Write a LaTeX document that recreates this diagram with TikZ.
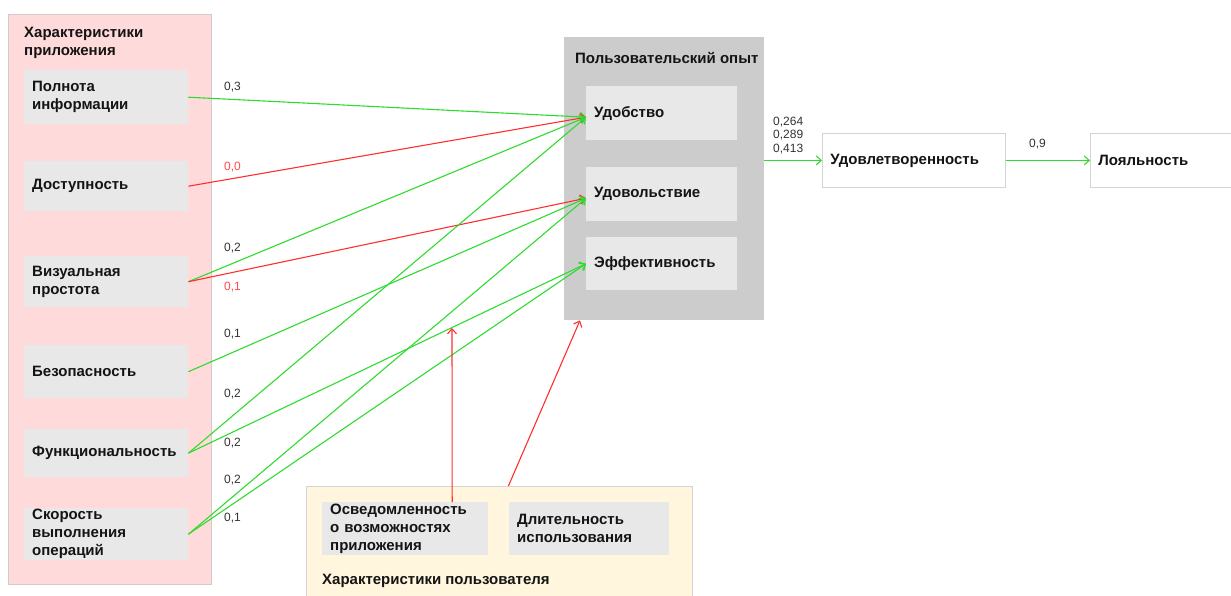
\documentclass[tikz,border=0pt]{standalone}
\usepackage{fontspec}
\setmainfont{Liberation Sans}
\usetikzlibrary{arrows.meta,calc}
\definecolor{pinkbg}{HTML}{FFDADA}
\definecolor{pinkbd}{HTML}{D8C8C8}
\definecolor{boxgray}{HTML}{E8E8E8}
\definecolor{expgray}{HTML}{CCCCCC}
\definecolor{yellowbg}{HTML}{FFF6DD}
\definecolor{bordgray}{HTML}{D4D4D4}
\definecolor{txt}{HTML}{141414}
\definecolor{numgray}{HTML}{333333}
\definecolor{lgreen}{HTML}{2EDB2E}
\definecolor{lred}{HTML}{FF2E2E}
\definecolor{labred}{HTML}{FF4A4A}
\begin{document}
\begin{tikzpicture}[x=1pt,y=-1pt,
  grbox/.style={fill=boxgray, draw=none, inner xsep=8pt, inner ysep=0pt, align=left,
    font=\bfseries\fontsize{15}{18}\selectfont, text=txt, anchor=north west},
  whbox/.style={grbox, fill=white, draw=bordgray, line width=0.8pt},
  titl/.style={font=\bfseries\fontsize{15}{18}\selectfont, text=txt, inner sep=0pt, align=left},
  numlab/.style={font=\fontsize{12}{13.4}\selectfont, text=numgray, inner sep=0pt, anchor=west, align=left},
  redlab/.style={numlab, text=labred},
  garr/.style={draw=lgreen, line width=1.1pt, -{Straight Barb[length=5pt,width=9pt]}},
  rarr/.style={draw=lred, line width=1.1pt, -{Straight Barb[length=5pt,width=9pt]}}
]
\useasboundingbox (0,0) rectangle (1231,595);

% left panel
\node[fill=pinkbg, draw=pinkbd, line width=0.8pt, anchor=north west, minimum width=203pt, minimum height=570pt, inner sep=0pt] (apppanel) at (8,14) {};
\node[titl, anchor=north west] (apptitle) at (24,27) {Характеристики\\приложения};
\node[grbox, text width=148pt, minimum height=54pt] (poln) at (24,70) {Полнота\\информации};
\node[grbox, text width=148pt, minimum height=50pt] (dost) at (24,161) {Доступность};
\node[grbox, text width=148pt, minimum height=51pt] (viz) at (24,256) {Визуальная\\простота};
\node[grbox, text width=148pt, minimum height=53pt] (bez) at (24,345) {Безопасность};
\node[grbox, text width=148pt, minimum height=48pt] (func) at (24,429) {Функциональность};
\node[grbox, text width=148pt, minimum height=52pt] (skor) at (24,508) {Скорость\\выполнения\\операций};

% center panel
\node[fill=expgray, anchor=north west, minimum width=200pt, minimum height=283pt, inner sep=0pt] (exp) at (564,37) {};
\node[titl, anchor=west] (exptitle) at (575,58) {Пользовательский опыт};
\node[grbox, text width=135pt, minimum height=54pt] (udob) at (586,86) {Удобство};
\node[grbox, text width=135pt, minimum height=54pt] (udov) at (586,167) {Удовольствие};
\node[grbox, text width=135pt, minimum height=53pt] (eff) at (586,237) {Эффективность};

% right
\node[whbox, text width=167pt, minimum height=54pt] (sat) at (822,133) {Удовлетворенность};
\node[whbox, text width=134pt, minimum height=54pt] (loy) at (1090,133) {Лояльность};

% bottom panel
\node[fill=yellowbg, draw=bordgray, line width=0.8pt, anchor=north west, minimum width=386pt, minimum height=130pt, inner sep=0pt] (ubox) at (306,486) {};
\node[grbox, text width=150pt, minimum height=53pt] (aware) at (322,502) {Осведомленность\\о возможностях\\приложения};
\node[grbox, text width=144pt, minimum height=53pt] (dur) at (509,502) {Длительность\\использования};
\node[titl, anchor=west] (utitle) at (322,581) {Характеристики пользователя};

% connectors
\draw[garr] (poln.east) -- ([yshift=-4pt]udob.west);
\draw[rarr] (dost.east) -- ([yshift=-4pt]udob.west);
\draw[garr] (viz.east) -- ([yshift=-4pt]udob.west);
\draw[rarr] (viz.east) -- ([yshift=-4pt]udov.west);
\draw[garr] (bez.east) -- ([yshift=-4pt]udov.west);
\draw[garr] (func.east) -- ([yshift=-4pt]udob.west);
\draw[garr] (func.east) -- (eff.west);
\draw[garr] (skor.east) -- ([yshift=-4pt]udov.west);
\draw[garr] (skor.east) -- (eff.west);

\coordinate (modpt) at (452,328);
\draw[rarr] ([xshift=47pt]aware.north) -- (modpt);
\draw[rarr] ([xshift=9pt]ubox.north) -- ([xshift=16pt]exp.south west);

\draw[garr] (exp.east |- sat.west) -- (sat.west);
\draw[garr] (sat.east) -- (loy.west);

% labels
\node[numlab] (l1) at (224,87) {0,3};
\node[redlab] (l2) at (224,167) {0,0};
\node[numlab] (l3) at (224,248) {0,2};
\node[redlab] (l4) at (224,287) {0,1};
\node[numlab] (l5) at (224,334) {0,1};
\node[numlab] (l6) at (224,394) {0,2};
\node[numlab] (l7) at (224,443) {0,2};
\node[numlab] (l8) at (224,480) {0,2};
\node[numlab] (l9) at (224,518) {0,1};
\node[numlab] (l10) at (773,135.5) {0,264\\0,289\\0,413};
\node[numlab] (l11) at (1029,144) {0,9};
\end{tikzpicture}
\end{document}
